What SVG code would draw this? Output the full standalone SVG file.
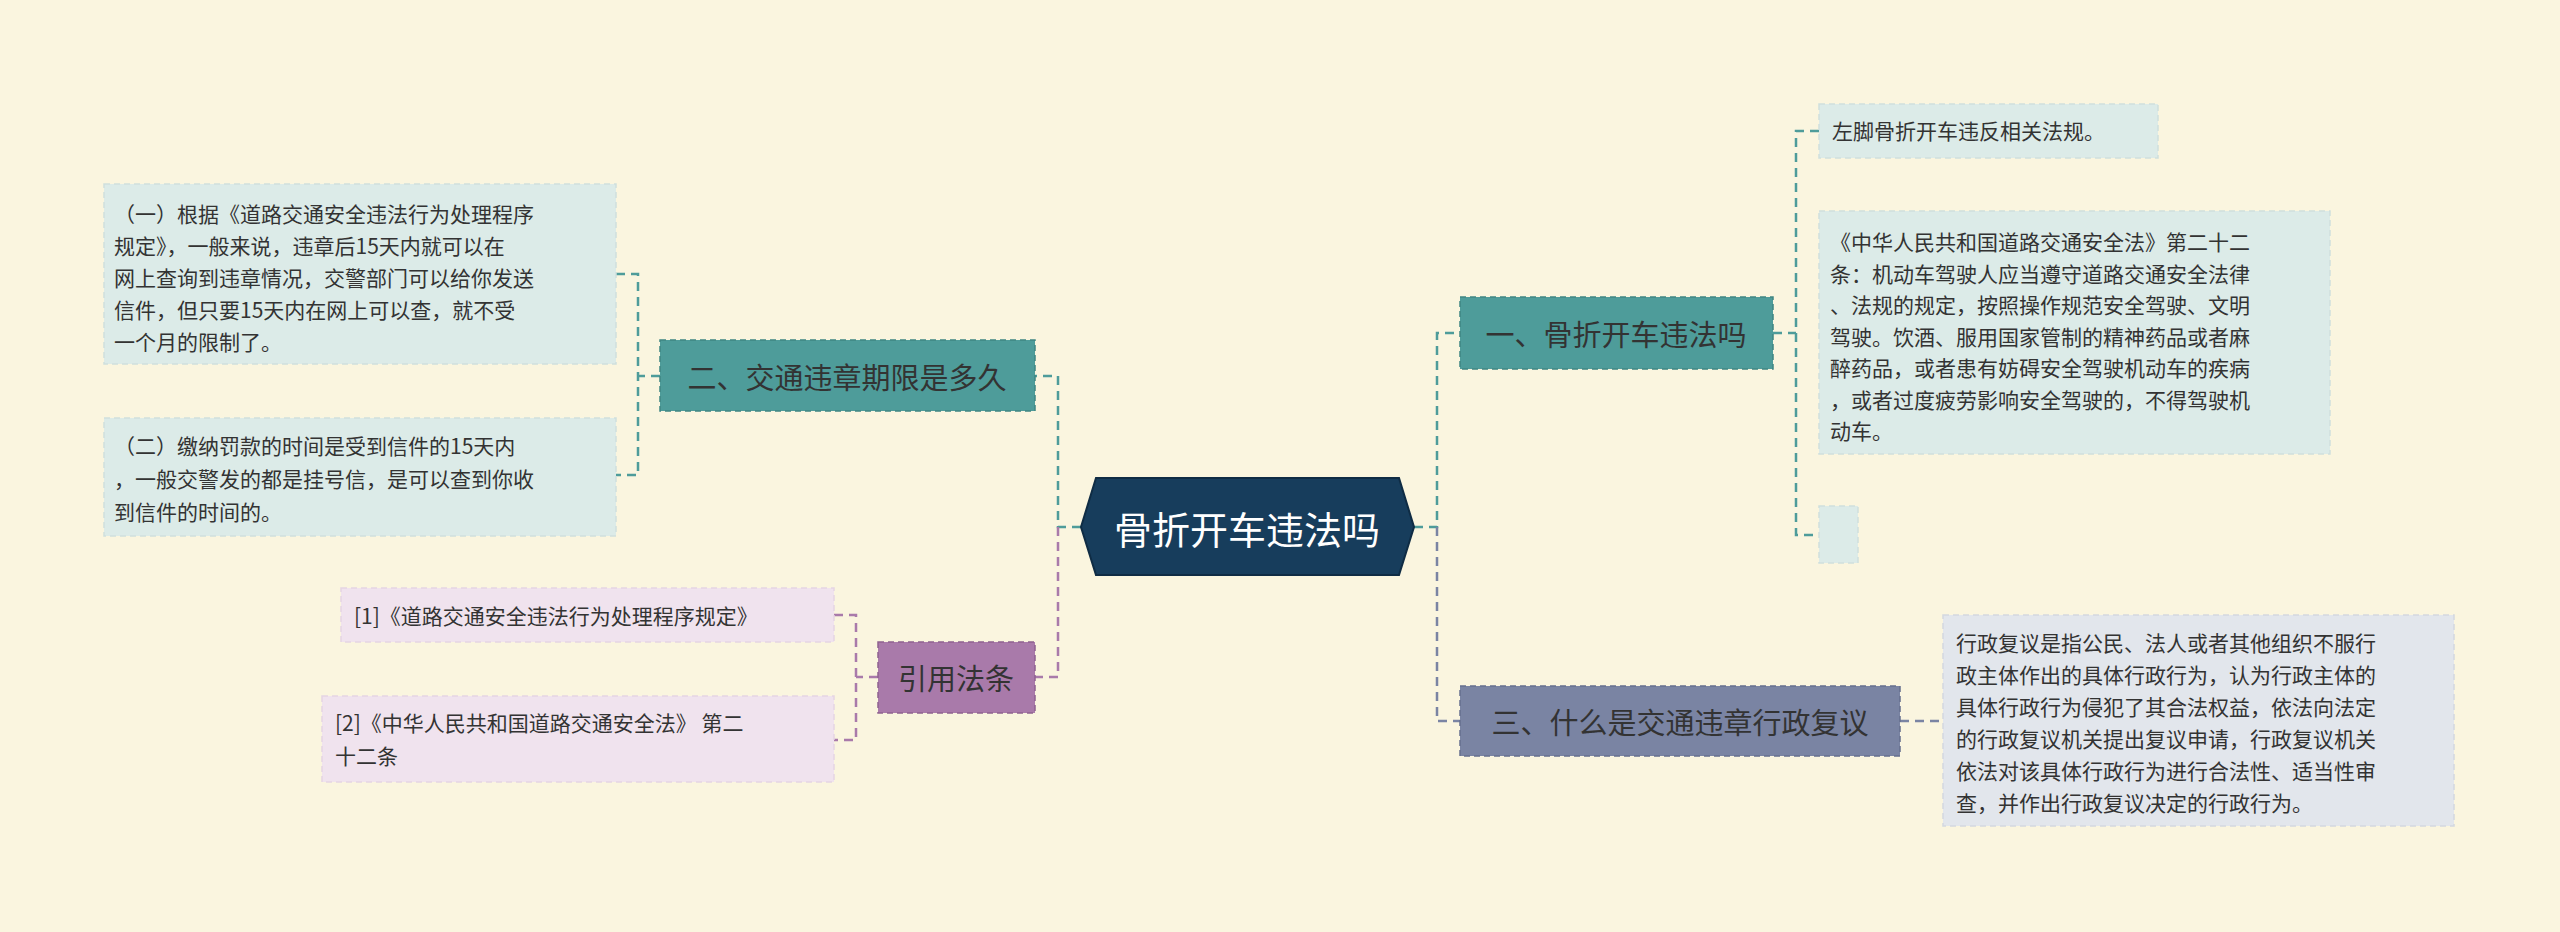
<svg xmlns="http://www.w3.org/2000/svg" width="2560" height="932" viewBox="0 0 2560 932">
<style>
text{font-family:"Noto Sans CJK SC","Noto Sans",sans-serif;fill:#333}
.leaf{font-size:21px}
.br{font-size:29px;text-anchor:middle;dominant-baseline:central}
.c{fill:none;stroke-width:2.5;stroke-dasharray:9 6}
.box{stroke-width:1.5;stroke-dasharray:6 4}
</style>
<rect width="2560" height="932" fill="#FAF5DF"/>
<g id="connectors">
<path class="c" stroke="#4E9C9A" d="M1414 527H1437V333H1460"/>
<path class="c" stroke="#7A84A3" d="M1437 527V721H1460"/>
<path class="c" stroke="#4E9C9A" d="M1081 527H1058V376H1035"/>
<path class="c" stroke="#A97AAA" d="M1058 527V677H1035"/>
<path class="c" stroke="#4E9C9A" d="M1773 333H1796M1819 131H1796V535H1819"/>
<path class="c" stroke="#7A84A3" d="M1900 721H1943"/>
<path class="c" stroke="#4E9C9A" d="M660 376H638M616 274H638V475H616"/>
<path class="c" stroke="#A97AAA" d="M878 677H856M834 615H856V740H834"/>
</g>
<g id="center">
<polygon points="1081,527 1096,478 1399,478 1414,527 1399,575 1096,575" fill="#173D5C" stroke="#0f2c44" stroke-width="2"/>
<text x="1247" y="527" style="font-size:38px;fill:#fff;text-anchor:middle;dominant-baseline:central">骨折开车违法吗</text>
</g>
<g id="b1">
<rect class="box" x="1460" y="297" width="313" height="72" fill="#4E9C9A" stroke="#3f8583"/>
<text class="br" x="1616" y="333">一、骨折开车违法吗</text>
</g>
<g id="b3">
<rect class="box" x="1460" y="686" width="440" height="70" fill="#7A84A3" stroke="#656f8e"/>
<text class="br" x="1680" y="721">三、什么是交通违章行政复议</text>
</g>
<g id="b2">
<rect class="box" x="660" y="340" width="375" height="71" fill="#4E9C9A" stroke="#3f8583"/>
<text class="br" x="847" y="376">二、交通违章期限是多久</text>
</g>
<g id="b4">
<rect class="box" x="878" y="642" width="157" height="71" fill="#A97AAA" stroke="#8f6290"/>
<text class="br" x="956" y="677">引用法条</text>
</g>
<g id="l1">
<rect class="box" x="1819" y="104" width="339" height="54" fill="#DCEBE8" stroke="#cfe0dd"/>
<text class="leaf" x="1832" y="139">左脚骨折开车违反相关法规。</text>
</g>
<g id="l2">
<rect class="box" x="1819" y="211" width="511" height="243" fill="#DCEBE8" stroke="#cfe0dd"/>
<text class="leaf" x="1830" y="250">《中华人民共和国道路交通安全法》第二十二</text>
<text class="leaf" x="1830" y="282">条：机动车驾驶人应当遵守道路交通安全法律</text>
<text class="leaf" x="1830" y="313">、法规的规定，按照操作规范安全驾驶、文明</text>
<text class="leaf" x="1830" y="345">驾驶。饮酒、服用国家管制的精神药品或者麻</text>
<text class="leaf" x="1830" y="376">醉药品，或者患有妨碍安全驾驶机动车的疾病</text>
<text class="leaf" x="1830" y="408">，或者过度疲劳影响安全驾驶的，不得驾驶机</text>
<text class="leaf" x="1830" y="439">动车。</text>
</g>
<g id="l3">
<rect class="box" x="1819" y="506" width="39" height="57" fill="#DCEBE8" stroke="#cfe0dd"/>
</g>
<g id="l4">
<rect class="box" x="1943" y="615" width="511" height="211" fill="#E2E6EC" stroke="#d3d8e0"/>
<text class="leaf" x="1956" y="651">行政复议是指公民、法人或者其他组织不服行</text>
<text class="leaf" x="1956" y="683">政主体作出的具体行政行为，认为行政主体的</text>
<text class="leaf" x="1956" y="715">具体行政行为侵犯了其合法权益，依法向法定</text>
<text class="leaf" x="1956" y="747">的行政复议机关提出复议申请，行政复议机关</text>
<text class="leaf" x="1956" y="779">依法对该具体行政行为进行合法性、适当性审</text>
<text class="leaf" x="1956" y="811">查，并作出行政复议决定的行政行为。</text>
</g>
<g id="l5">
<rect class="box" x="104" y="184" width="512" height="180" fill="#DCEBE8" stroke="#cfe0dd"/>
<text class="leaf" x="114" y="222">（一）根据《道路交通安全违法行为处理程序</text>
<text class="leaf" x="114" y="254">规定》，一般来说，违章后15天内就可以在</text>
<text class="leaf" x="114" y="286">网上查询到违章情况，交警部门可以给你发送</text>
<text class="leaf" x="114" y="318">信件，但只要15天内在网上可以查，就不受</text>
<text class="leaf" x="114" y="350">一个月的限制了。</text>
</g>
<g id="l6">
<rect class="box" x="104" y="418" width="512" height="118" fill="#DCEBE8" stroke="#cfe0dd"/>
<text class="leaf" x="114" y="454">（二）缴纳罚款的时间是受到信件的15天内</text>
<text class="leaf" x="114" y="487">，一般交警发的都是挂号信，是可以查到你收</text>
<text class="leaf" x="114" y="520">到信件的时间的。</text>
</g>
<g id="r1">
<rect class="box" x="341" y="588" width="493" height="54" fill="#F0E3EE" stroke="#e5d5e3"/>
<text class="leaf" x="354" y="624">[1]《道路交通安全违法行为处理程序规定》</text>
</g>
<g id="r2">
<rect class="box" x="322" y="696" width="512" height="86" fill="#F0E3EE" stroke="#e5d5e3"/>
<text class="leaf" x="335" y="731">[2]《中华人民共和国道路交通安全法》 第二</text>
<text class="leaf" x="335" y="764">十二条</text>
</g>
</svg>
